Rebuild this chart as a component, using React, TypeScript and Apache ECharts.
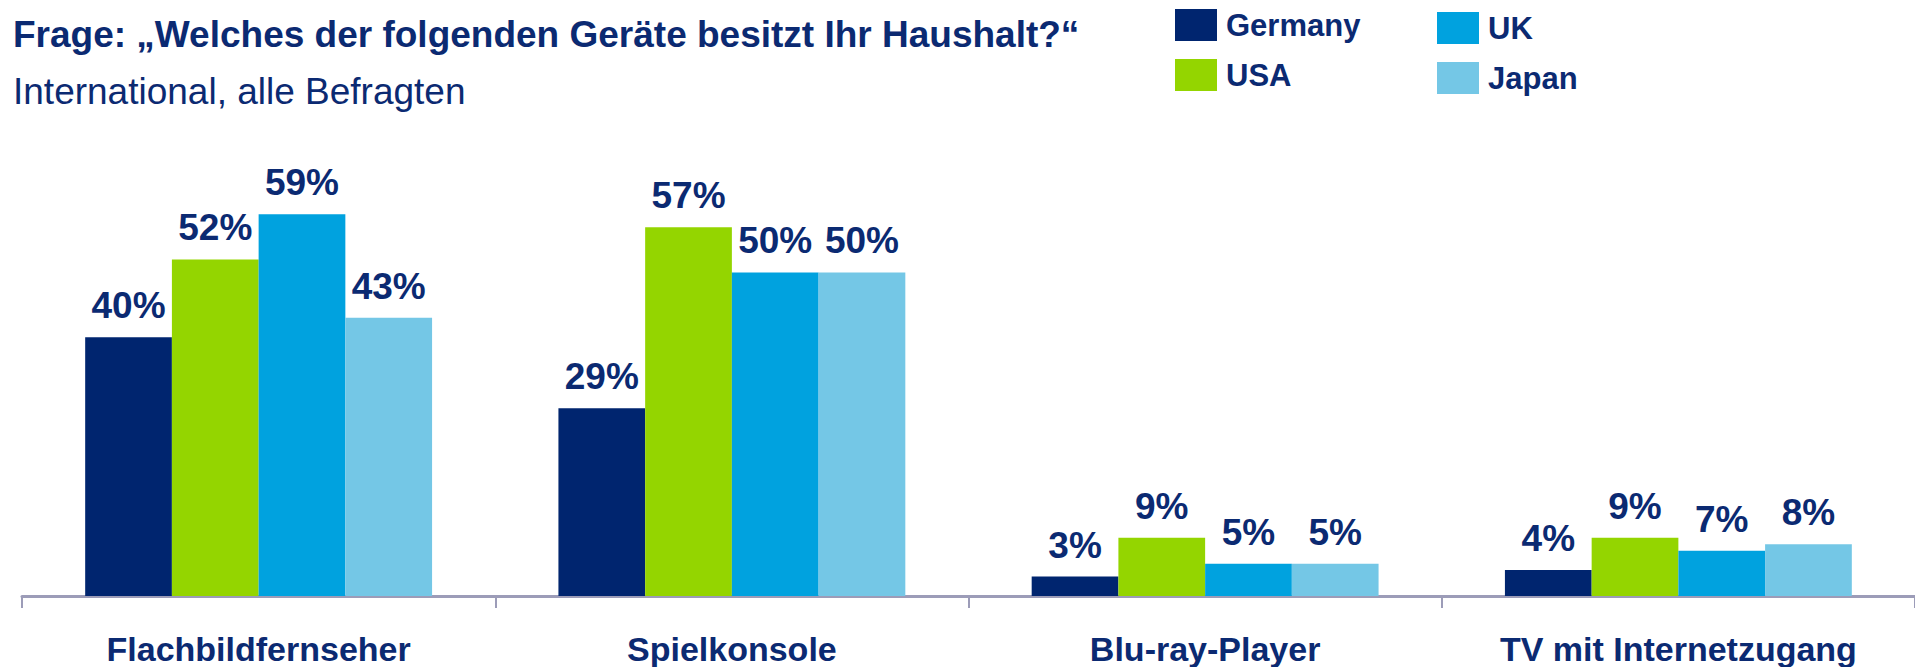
import React, { useEffect, useRef } from "react";
import * as echarts from "echarts";

const categories = ["Flachbildfernseher", "Spielkonsole", "Blu-ray-Player", "TV mit Internetzugang"];
const germany = [40, 29, 3, 4];
const usa = [52, 57, 9, 9];
const uk = [59, 50, 5, 7];
const japan = [43, 50, 5, 8];
const seriesNames = ["Germany", "USA", "UK", "Japan"];
const colors = ["#00256f", "#94d500", "#00a2df", "#74c7e6"];

const NAVY = "#0b2a72";
const FONT = "Liberation Sans, Arial, sans-serif";

export default function App() {
  const ref = useRef<HTMLDivElement>(null);
  useEffect(() => {
    if (!ref.current) return;
    const chart = echarts.init(ref.current, null, { renderer: "svg" });
    const dataSets = [germany, usa, uk, japan];
    chart.setOption({
      animation: false,
      backgroundColor: "#ffffff",
      title: [
        {
          text: "Frage: „Welches der folgenden Geräte besitzt Ihr Haushalt?“",
          left: 0,
          top: 3,
          textStyle: { color: NAVY, fontSize: 37, fontWeight: "bold", fontFamily: FONT },
        },
        {
          text: "International, alle Befragten",
          left: 0,
          top: 60,
          textStyle: { color: NAVY, fontSize: 37, fontWeight: "normal", fontFamily: FONT },
        },
      ],
      legend: [
        {
          data: ["Germany", "USA"],
          orient: "vertical",
          left: 1162,
          top: -4,
          itemWidth: 42,
          itemHeight: 32,
          itemGap: 18,
          icon: "rect",
          textStyle: { color: NAVY, fontSize: 31, fontWeight: "bold", fontFamily: FONT, padding: [0, 0, 0, 4] },
        },
        {
          data: ["UK", "Japan"],
          orient: "vertical",
          left: 1424,
          top: -1,
          itemWidth: 42,
          itemHeight: 32,
          itemGap: 18,
          icon: "rect",
          textStyle: { color: NAVY, fontSize: 31, fontWeight: "bold", fontFamily: FONT, padding: [0, 0, 0, 4] },
        },
      ],
      grid: { left: 14, right: 0, top: 135, bottom: 71, containLabel: false },
      xAxis: {
        type: "category",
        data: categories,
        axisLine: { show: true, lineStyle: { color: "#9c9cb8", width: 3 } },
        axisTick: { show: true, length: 12, lineStyle: { color: "#9c9cb8", width: 2 } },
        axisLabel: {
          interval: 0,
          color: NAVY,
          fontSize: 34,
          lineHeight: 34,
          fontWeight: "bold",
          fontFamily: FONT,
          margin: 36,
        },
      },
      yAxis: {
        type: "value",
        min: 0,
        max: 70,
        show: false,
        splitLine: { show: false },
      },
      series: seriesNames.map((name, i) => ({
        name,
        type: "bar",
        data: dataSets[i],
        barGap: "0%",
        barCategoryGap: "26.7%",
        itemStyle: { color: colors[i] },
        label: {
          show: true,
          position: "top",
          distance: 13,
          formatter: "{c}%",
          color: NAVY,
          fontSize: 37,
          fontWeight: "bold",
          fontFamily: FONT,
        },
      })),
    });
    return () => chart.dispose();
  }, []);
  return <div ref={ref} style={{ width: 1907, height: 659 }} />;
}
